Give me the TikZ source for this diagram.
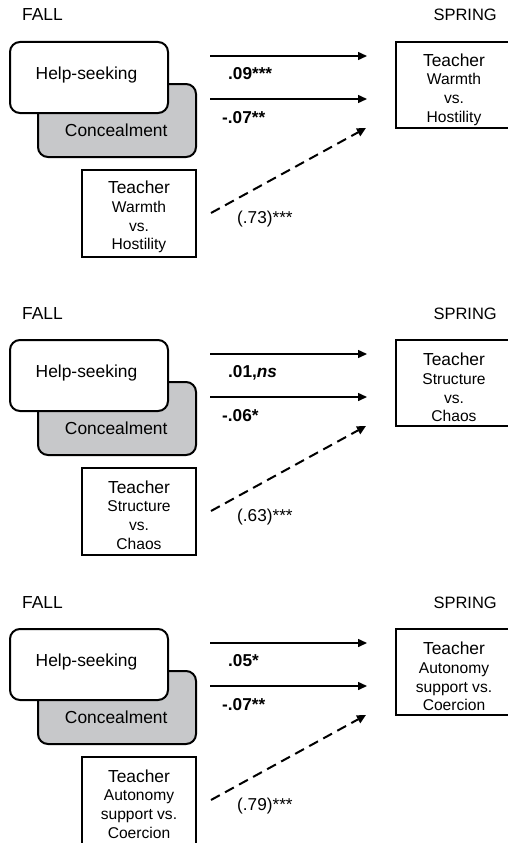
\documentclass[tikz,border=0pt]{standalone}
\usepackage{fontspec}
\setmainfont{Liberation Sans}
\usetikzlibrary{arrows.meta}
\definecolor{concgray}{RGB}{199,200,202}
\tikzset{
  boxline/.style={draw=black, line width=2pt},
  helpbox/.style={boxline, rounded corners=10pt, fill=white, minimum width=158pt, minimum height=71pt, inner sep=0pt},
  concbox/.style={boxline, rounded corners=10pt, fill=concgray, minimum width=158pt, minimum height=73pt, inner sep=0pt},
  varbox/.style={boxline, fill=white, inner sep=0pt},
  bigtxt/.style={font=\fontsize{17.4}{20}\selectfont, inner sep=0pt, anchor=base},
  vartxt/.style={font=\fontsize{15.6}{18.7}\selectfont, inner sep=0pt, align=center},
  coeftxt/.style={font=\fontsize{17.2}{20}\selectfont, inner sep=0pt, anchor=base west},
  pathline/.style={line width=1.5pt, -{Triangle[length=9pt,width=8pt]}},
  dashline/.style={line width=2pt, dash pattern=on 10pt off 6pt, -{Triangle[length=9pt,width=8.5pt]}},
}
% #1 y offset, #2 suffix, #3 coef 1, #4 coef 2, #5 stability, #6 #7 #8 lines of the teacher variable
\newcommand\drawpanel[8]{%
  \begin{scope}[shift={(0,#1)}]
    \node[bigtxt, anchor=base west] (fall#2) at (22,21) {FALL};
    \node[bigtxt, anchor=base east, font=\fontsize{16.5}{20}\selectfont] (spring#2) at (497,21) {SPRING};
    \node[concbox] (conc#2) at (117,120.5) {};
    \node[helpbox] (help#2) at (89,77.5) {};
    \node[bigtxt] (helpt#2) at (86.5,79) {Help-seeking};
    \node[bigtxt] (conct#2) at (116.2,136) {Concealment};
    \node[varbox, minimum width=124pt, minimum height=86pt] (post#2) at (458,85) {};
    \node[vartxt] (postt#2) at (454,89.5) {{\fontsize{17.4}{18.7}\selectfont Teacher}\\#6\\#7\\#8};
    \node[varbox, minimum width=114pt, minimum height=87pt] (pre#2) at (139,213.5) {};
    \node[vartxt] (pret#2) at (139,217) {{\fontsize{17.4}{18.7}\selectfont Teacher}\\#6\\#7\\#8};
    \coordinate (hs#2) at (210,56);
    \coordinate (he#2) at (367,56);
    \coordinate (cs#2) at (210,99);
    \coordinate (ce#2) at (367,99);
    \coordinate (ds#2) at (211,213);
    \coordinate (de#2) at (366,128);
    \draw[pathline] (hs#2) -- (he#2);
    \draw[pathline] (cs#2) -- (ce#2);
    \draw[dashline] (ds#2) -- (de#2);
    \node[coeftxt] (c1#2) at (228,79) {#3};
    \node[coeftxt] (c2#2) at (222,123) {#4};
    \node[coeftxt] (c3#2) at (237,223) {#5};
  \end{scope}%
}
\begin{document}
\begin{tikzpicture}[x=1pt, y=-1pt]
  \useasboundingbox[fill=white] (0,0) rectangle (508,843);
  \drawpanel{0}{A}{\textbf{.09***}}{\textbf{-.07**}}{(.73)***}{Warmth}{vs.}{Hostility}
  \drawpanel{298}{B}{\textbf{.01,\textit{ns}}}{\textbf{-.06*}}{(.63)***}{Structure}{vs.}{Chaos}
  \drawpanel{587}{C}{\textbf{.05*}}{\textbf{-.07**}}{(.79)***}{Autonomy}{support vs.}{Coercion}
\end{tikzpicture}
\end{document}
